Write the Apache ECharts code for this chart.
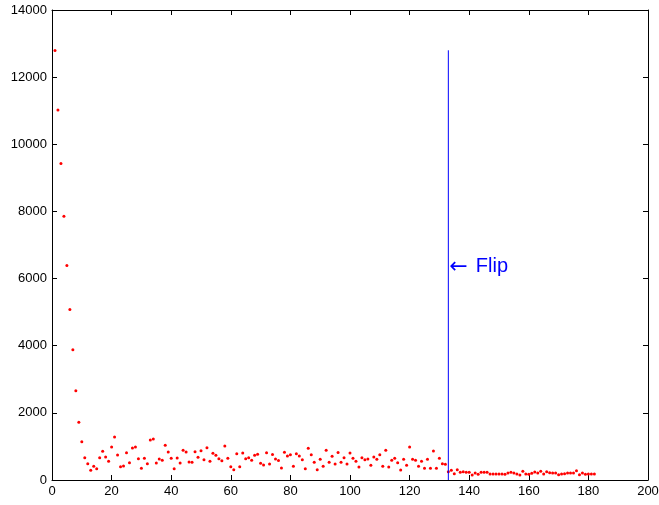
<!DOCTYPE html>
<html><head><meta charset="utf-8">
<script src="https://cdn.jsdelivr.net/npm/echarts@6/dist/echarts.min.js"></script>
<style>html,body{margin:0;padding:0;background:#fff}#c{width:659px;height:505px}</style>
</head><body><div id="c"></div>
<script>
// Sample values, one per index 1..182
const values = [
12790,11020,9430,7860,6390,5080,3880,2660,1720,1140,
665,486,288,407,338,665,854,685,556,983,
1281,745,397,417,814,516,953,983,635,348,
645,486,1192,1221,506,626,587,1033,834,645,
338,655,506,884,834,536,526,844,675,874,
606,963,556,794,735,635,576,1013,645,397,
308,784,397,804,635,665,587,735,765,496,
447,814,477,760,626,580,357,830,715,750,
407,784,715,606,338,943,755,526,308,616,
407,884,526,710,480,820,526,665,477,804,
645,556,387,665,606,626,437,685,616,755,
407,884,387,587,645,516,298,616,437,983,
616,587,407,556,348,616,348,864,348,645,
486,467,248,288,189,308,228,248,228,228,
149,209,169,229,229,229,179,179,179,179,
179,169,209,229,209,179,149,258,179,169,
199,239,209,258,179,248,219,209,209,159,
179,189,209,209,209,278,159,209,169,179,
179,179
];
const flipX = 133;
const flipLine = [0, 12800];
const flipLabelY = 6350;
const flipArrow = '\u2190';
const flipText = 'Flip';
const xRange = [0, 200, 20];
const yRange = [0, 14000, 2000];

const points = values.map((v, i) => [i + 1, v]);
const FONT = "'Liberation Sans', Arial, Helvetica, sans-serif";

function axisBase(pos, showLabel, range) {
  return {
    type: 'value', position: pos, min: range[0], max: range[1], interval: range[2],
    axisLine: { show: true, onZero: false, lineStyle: { color: '#000', width: 1 } },
    axisTick: { show: true, inside: true, length: 5, lineStyle: { color: '#000', width: 1 } },
    axisLabel: { show: showLabel, color: '#000', fontSize: 13, fontFamily: FONT, margin: 5,
      formatter: v => String(v) },
    splitLine: { show: false }
  };
}

const chart = echarts.init(document.getElementById('c'), null, { renderer: 'canvas' });
chart.setOption({
  animation: false,
  backgroundColor: '#fff',
  grid: { left: 52, right: 11, top: 10, bottom: 25, containLabel: false, outerBoundsMode: 'none' },
  xAxis: [axisBase('bottom', true, xRange), axisBase('top', false, xRange)],
  yAxis: [axisBase('left', true, yRange), axisBase('right', false, yRange)],
  series: [
    {
      type: 'scatter', xAxisIndex: 0, yAxisIndex: 0, data: points,
      symbol: 'circle', symbolSize: 3, itemStyle: { color: '#ff0000', opacity: 1 }, silent: true
    },
    {
      type: 'line', xAxisIndex: 0, yAxisIndex: 0,
      data: flipLine.map(v => [flipX, v]), symbol: 'none',
      lineStyle: { color: '#0000ff', width: 1 }, silent: true
    },
    {
      type: 'scatter', xAxisIndex: 0, yAxisIndex: 0, data: [[flipX, flipLabelY]],
      symbolSize: 0, silent: true, itemStyle: { opacity: 1 },
      label: { show: true, position: 'right', distance: 1,
        formatter: '{a|' + flipArrow + '}{b|' + flipText + '}',
        rich: {
          a: { color: '#0000ff', fontSize: 22, fontFamily: "'DejaVu Sans', sans-serif" },
          b: { color: '#0000ff', fontSize: 20, fontFamily: FONT, padding: [0, 0, 0, 8] }
        }
      }
    }
  ]
});
</script>
</body></html>
